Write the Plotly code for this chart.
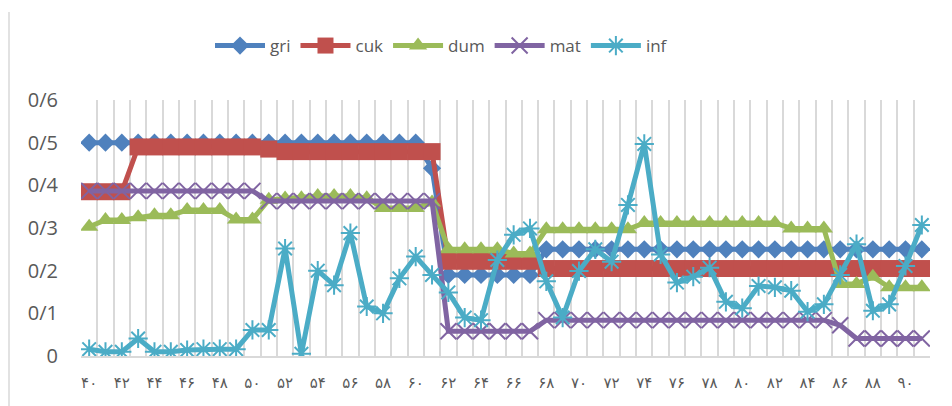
import plotly.graph_objects as go

years = list(range(40, 92))
persian_digits = "۰۱۲۳۴۵۶۷۸۹"
tick_years = list(range(40, 91, 2))
tick_labels = ["".join(persian_digits[int(c)] for c in str(v)) for v in tick_years]

y_tick_vals = [0, 0.1, 0.2, 0.3, 0.4, 0.5, 0.6]
y_tick_text = ["0", "0/1", "0/2", "0/3", "0/4", "0/5", "0/6"]

gri = [0.50, 0.50, 0.50, 0.50, 0.50, 0.50, 0.50, 0.50, 0.50, 0.50,
       0.50, 0.50, 0.50, 0.50, 0.50, 0.50, 0.50, 0.50, 0.50, 0.50,
       0.50, 0.44, 0.19, 0.19, 0.19, 0.19, 0.19, 0.19, 0.25, 0.25,
       0.25, 0.25, 0.25, 0.25, 0.25, 0.25, 0.25, 0.25, 0.25, 0.25,
       0.25, 0.25, 0.25, 0.25, 0.25, 0.25, 0.25, 0.25, 0.25, 0.25,
       0.25, 0.25]

cuk = [0.385, 0.385, 0.385, 0.49, 0.49, 0.49, 0.49, 0.49, 0.49, 0.49,
       0.49, 0.485, 0.479, 0.479, 0.479, 0.479, 0.479, 0.479, 0.479, 0.479,
       0.479, 0.479, 0.222, 0.222, 0.222, 0.222, 0.222, 0.222, 0.205, 0.205,
       0.205, 0.205, 0.205, 0.205, 0.205, 0.205, 0.205, 0.205, 0.205, 0.205,
       0.205, 0.205, 0.205, 0.205, 0.205, 0.205, 0.205, 0.205, 0.205, 0.205,
       0.205, 0.205]

dum = [0.303, 0.319, 0.319, 0.325, 0.33, 0.33, 0.342, 0.342, 0.342, 0.32,
       0.32, 0.366, 0.369, 0.37, 0.375, 0.375, 0.375, 0.37, 0.347, 0.347,
       0.347, 0.36, 0.25, 0.25, 0.25, 0.25, 0.24, 0.24, 0.297, 0.297,
       0.297, 0.297, 0.297, 0.297, 0.312, 0.312, 0.312, 0.312, 0.312, 0.312,
       0.312, 0.312, 0.312, 0.299, 0.299, 0.299, 0.169, 0.169, 0.186, 0.161,
       0.161, 0.161]

mat = [0.387, 0.387, 0.387, 0.387, 0.387, 0.387, 0.387, 0.387, 0.387, 0.387,
       0.387, 0.363, 0.363, 0.363, 0.363, 0.363, 0.363, 0.363, 0.363, 0.363,
       0.363, 0.363, 0.058, 0.058, 0.058, 0.058, 0.058, 0.058, 0.084, 0.084,
       0.084, 0.084, 0.084, 0.084, 0.084, 0.084, 0.084, 0.084, 0.084, 0.084,
       0.084, 0.084, 0.084, 0.084, 0.084, 0.084, 0.072, 0.041, 0.041, 0.041,
       0.041, 0.041]

inf = [0.016, 0.010, 0.010, 0.041, 0.010, 0.010, 0.014, 0.016, 0.016, 0.016,
       0.061, 0.061, 0.252, 0.005, 0.200, 0.166, 0.288, 0.116, 0.100, 0.182,
       0.233, 0.190, 0.149, 0.090, 0.084, 0.225, 0.284, 0.299, 0.175, 0.090,
       0.199, 0.250, 0.221, 0.354, 0.497, 0.238, 0.172, 0.186, 0.207, 0.127,
       0.112, 0.164, 0.161, 0.153, 0.104, 0.121, 0.190, 0.262, 0.106, 0.121,
       0.211, 0.307]

series = [
    ("gri", gri, "#4F81BD", dict(symbol="diamond", size=14)),
    ("cuk", cuk, "#C0504D", dict(symbol="square", size=17)),
    ("dum", dum, "#9BBB59", dict(symbol="triangle-up", size=16)),
    ("mat", mat, "#8064A2", dict(symbol="x-thin-open", size=16, line=dict(width=2))),
    ("inf", inf, "#4BACC6", dict(symbol="asterisk-open", size=16, line=dict(width=2))),
]

fig = go.Figure()
for name, vals, color, mk in series:
    marker = dict(color=color, **mk)
    if "line" in marker:
        marker["line"]["color"] = color
    else:
        marker["line"] = dict(width=0)
    fig.add_trace(go.Scatter(
        x=years, y=vals, name=name, mode="lines+markers",
        line=dict(color=color, width=5),
        marker=marker,
    ))

# page body has an 8px margin, so the figure is 944x398 placed at (8, 8)
W, H = 944, 398
ML, MR, MT, MB = 73, 22, 92, 50
PW, PH = W - ML - MR, H - MT - MB
fig.update_layout(
    width=W, height=H,
    margin=dict(l=ML, r=MR, t=MT, b=MB, autoexpand=False),
    paper_bgcolor="white", plot_bgcolor="white",
    font=dict(family="DejaVu Sans", color="#595959"),
    showlegend=True,
    legend=dict(orientation="h", x=(202 - ML) / PW, xanchor="left",
                y=1 + (MT - 38) / PH, yanchor="middle",
                font=dict(size=17, color="#595959", family="Open Sans"),
                itemwidth=50, bgcolor="rgba(0,0,0,0)"),
    shapes=[dict(type="line", xref="paper", yref="paper",
                 x0=-(ML - 1) / PW, x1=-(ML - 1) / PW, y0=-MB / PH, y1=1 + (MT - 4) / PH,
                 line=dict(color="#D9D9D9", width=1.5))],
)
fig.update_xaxes(
    range=[39.5, 91.5],
    tickmode="array", tickvals=tick_years, ticktext=tick_labels,
    tickfont=dict(size=15, color="#595959", family="DejaVu Sans"),
    showgrid=False, zeroline=False,
    showline=True, linecolor="#D9D9D9", linewidth=1.5,
    ticks="", ticklabelstandoff=12,
    minor=dict(tick0=39.5, dtick=1, showgrid=True, gridcolor="#D9D9D9", gridwidth=1.5),
)
fig.update_yaxes(
    range=[0, 0.6],
    tickmode="array", tickvals=y_tick_vals, ticktext=y_tick_text,
    tickfont=dict(size=20, color="#595959", family="Open Sans"),
    showgrid=False, zeroline=False, showline=False,
    ticks="", ticklabelstandoff=22,
)

fig.write_html("out.html")
